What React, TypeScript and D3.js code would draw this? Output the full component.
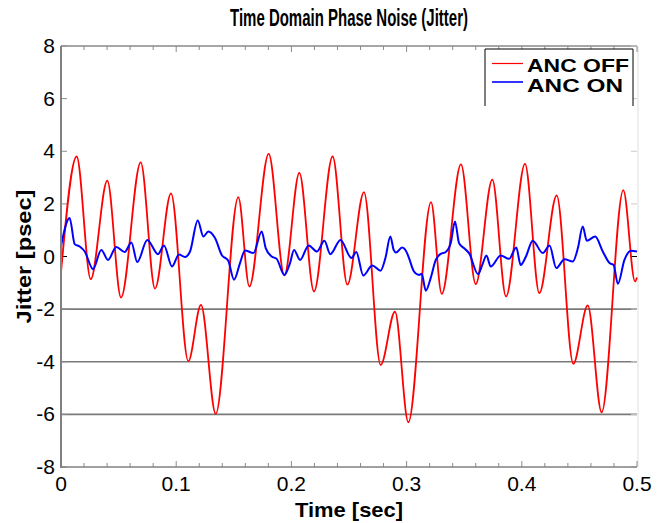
import React from "react";
import * as d3 from "d3";

const WIDTH = 659;
const HEIGHT = 523;

// Axis ticks
const xTickValues = [0, 0.1, 0.2, 0.3, 0.4, 0.5];
const xTickLabels = ["0", "0.1", "0.2", "0.3", "0.4", "0.5"];
const yTickValues = [-8, -6, -4, -2, 0, 2, 4, 6, 8];
const yTickLabels = ["-8", "-6", "-4", "-2", "0", "2", "4", "6", "8"];
const gridLevels = [-2, -4, -6];

// ANC OFF: jitter (psec) vs time (sec)
const ancOffTime = [
  0, 0.0136, 0.0258, 0.0402, 0.0521, 0.0692, 0.0816, 0.0955, 0.1105, 0.1215,
  0.1343, 0.1539, 0.1635, 0.1803, 0.1939, 0.2069, 0.2196, 0.2358, 0.2486, 0.263,
  0.2775, 0.2899, 0.3015, 0.3212, 0.3305, 0.3472, 0.36, 0.3744, 0.3863, 0.4028,
  0.4152, 0.4303, 0.4447, 0.4572, 0.4693, 0.4881, 0.4983, 0.5,
];
const ancOffJitter = [
  -0.6, 3.8, -0.86, 2.88, -1.56, 3.58, -1.22, 2.4, -3.98, -1.84,
  -5.98, 2.26, -1.14, 3.9, -0.72, 3.18, -1.33, 3.8, -1.07, 2.45,
  -4.12, -2.1, -6.3, 2.07, -1.42, 3.5, -1.05, 2.92, -1.52, 3.52,
  -1.39, 2.32, -4.08, -1.86, -5.92, 2.52, -0.95, -0.8,
];

// ANC ON: jitter (psec) vs time (sec)
const ancOnTime = [
  0, 0.0075, 0.0119, 0.0162, 0.0206, 0.0278, 0.035, 0.0408, 0.048, 0.0553,
  0.0611, 0.0662, 0.0749, 0.0842, 0.0894, 0.0964, 0.1024, 0.1076, 0.112, 0.1187,
  0.1236, 0.1279, 0.1337, 0.1395, 0.1452, 0.1502, 0.1554, 0.1597, 0.167, 0.1742,
  0.1777, 0.1829, 0.1872, 0.1939, 0.1988, 0.2023, 0.2075, 0.215, 0.2222, 0.2286,
  0.2338, 0.2426, 0.2522, 0.2563, 0.2624, 0.2702, 0.2774, 0.2816, 0.2859, 0.2888,
  0.2908, 0.2961, 0.3004, 0.3021, 0.3064, 0.3108, 0.3131, 0.3167, 0.3209, 0.3253,
  0.3296, 0.334, 0.3383, 0.342, 0.3455, 0.3498, 0.3542, 0.362, 0.3657, 0.3693,
  0.373, 0.3817, 0.3889, 0.3952, 0.399, 0.4036, 0.4095, 0.4182, 0.4241, 0.4299,
  0.4371, 0.4443, 0.4487, 0.4529, 0.4564, 0.4637, 0.4703, 0.4762, 0.4797, 0.4834,
  0.4891, 0.4948, 0.5,
];
const ancOnJitter = [
  0.4, 1.46, 0.47, 0.38, 0.19, -0.48, 0.25, -0.13, 0.36, 0.17,
  0.53, -0.21, 0.63, 0.09, 0.42, -0.38, 0.08, -0.02, 0.19, 1.37,
  0.76, 0.95, 0.7, 0.06, -0.16, -0.88, -0.25, 0.23, 0.13, 0.95,
  0.32, 0.0, -0.09, -0.7, -0.25, 0.25, -0.13, 0.42, 0.19, 0.6,
  0.09, 0.63, -0.06, 0.17, -0.72, -0.34, -0.54, -0.06, 0.76, 0.25,
  0.15, 0.34, 0.13, -0.06, -0.57, -0.7, -0.66, -1.3, -0.82, -0.13,
  0.1, 0.17, 0.51, 1.33, 0.51, 0.32, 0.13, -0.67, -0.32, 0.04,
  -0.38, 0.04, -0.09, 0.34, -0.32, 0.0, 0.6, 0.13, 0.42, -0.44,
  -0.1, -0.19, 0.32, 1.14, 0.6, 0.76, 0.19, -0.25, -0.32, -1.04,
  -0.13, 0.22, 0.19,
];

const NARROW = "'Liberation Sans Narrow', 'Arial Narrow', 'Liberation Sans', Arial, sans-serif";
const SANS = "'Liberation Sans', Arial, sans-serif";

export default function App() {
  const x = d3.scaleLinear().domain([0, 0.5]).range([61, 637]);
  const y = d3.scaleLinear().domain([-8, 8]).range([467, 46]);

  const line = d3
    .line<[number, number]>()
    .x((d) => x(d[0]))
    .y((d) => y(d[1]))
    .curve(d3.curveMonotoneX);

  const offPts = ancOffTime.map((t, i) => [t, ancOffJitter[i]] as [number, number]);
  const onPts = ancOnTime.map((t, i) => [t, ancOnJitter[i]] as [number, number]);

  const [x0, x1] = x.range();
  const yTop = y(8);
  const yBot = y(-8);
  const minorX = d3.range(0, 0.5001, 0.02);

  return (
    <svg
      width={WIDTH}
      height={HEIGHT}
      style={{ position: "fixed", left: 0, top: 0, background: "#fff" }}
    >
      <rect x={0} y={0} width={WIDTH} height={HEIGHT} fill="#fff" />

      {/* horizontal reference lines */}
      {gridLevels.map((v) => (
        <line key={v} x1={x0} x2={x1} y1={y(v)} y2={y(v)} stroke="#7a7a7a" strokeWidth={1.6} />
      ))}

      {/* frame */}
      <line x1={x0} x2={x1} y1={yTop} y2={yTop} stroke="#8a8a8a" strokeWidth={1.3} />
      <line x1={x1 + 1} x2={x1 + 1} y1={yTop} y2={yBot} stroke="#e6e6e6" strokeWidth={1.3} />

      {/* x ticks, bottom and top */}
      {minorX.map((t, i) => {
        const major = i % 5 === 0;
        const len = major ? 6 : 4;
        return (
          <g key={i}>
            <line x1={x(t)} x2={x(t)} y1={yBot} y2={yBot - len} stroke="#8a8a8a" strokeWidth={1} />
            <line x1={x(t)} x2={x(t)} y1={yTop} y2={yTop + len} stroke="#8a8a8a" strokeWidth={1} />
          </g>
        );
      })}

      {/* y ticks, left and right */}
      {yTickValues.map((v) => (
        <g key={v}>
          <line x1={x0} x2={x0 + 6} y1={y(v)} y2={y(v)} stroke={v === 0 ? "#000" : "#8a8a8a"} strokeWidth={1} />
          <line x1={x1} x2={x1 - 6} y1={y(v)} y2={y(v)} stroke={v === 0 ? "#000" : "#c8c8c8"} strokeWidth={1} />
        </g>
      ))}

      {/* data */}
      <path d={line(offPts) ?? ""} fill="none" stroke="#ff0000" strokeWidth={1.8} />
      <path d={line(onPts) ?? ""} fill="none" stroke="#0000ff" strokeWidth={2} />

      {/* left and bottom axis lines */}
      <line x1={x0} x2={x0} y1={yTop} y2={yBot + 1} stroke="#808080" strokeWidth={2} />
      <line x1={x0} x2={x1} y1={yBot} y2={yBot} stroke="#808080" strokeWidth={1.6} />

      {/* tick labels */}
      {xTickValues.map((t, i) => (
        <text
          key={t}
          x={x(t)}
          y={yBot + 24}
          textAnchor="middle"
          fontFamily={NARROW}
          fontSize={21}
          fill="#000"
        >
          {xTickLabels[i]}
        </text>
      ))}
      {yTickValues.map((v, i) => (
        <text
          key={v}
          x={x0 - 6}
          y={y(v) + 7}
          textAnchor="end"
          fontFamily={NARROW}
          fontSize={21}
          fill="#000"
        >
          {yTickLabels[i]}
        </text>
      ))}

      {/* title and axis titles */}
      <text
        x={(x0 + x1) / 2}
        y={26}
        textAnchor="middle"
        fontFamily={SANS}
        fontWeight="bold"
        fontSize={23}
        textLength={238}
        lengthAdjust="spacingAndGlyphs"
      >
        Time Domain Phase Noise (Jitter)
      </text>
      <text
        x={(x0 + x1) / 2}
        y={517}
        textAnchor="middle"
        fontFamily={NARROW}
        fontWeight="bold"
        fontSize={21}
        textLength={108}
        lengthAdjust="spacingAndGlyphs"
      >
        Time [sec]
      </text>
      <text
        transform={`translate(31, ${(yTop + yBot) / 2}) rotate(-90)`}
        textAnchor="middle"
        fontFamily={NARROW}
        fontWeight="bold"
        fontSize={21}
        textLength={134}
        lengthAdjust="spacingAndGlyphs"
      >
        Jitter [psec]
      </text>

      {/* legend */}
      <g>
        <rect x={485} y={49} width={148} height={58} fill="#fff" />
        <line x1={485} x2={633} y1={49} y2={49} stroke="#000" strokeWidth={1} />
        <line x1={485} x2={485} y1={49} y2={106} stroke="#000" strokeWidth={1} />
        <line x1={633} x2={633} y1={49} y2={106} stroke="#000" strokeWidth={1} />
        <line x1={492} x2={523} y1={63.5} y2={63.5} stroke="#ff0000" strokeWidth={1.2} />
        <line x1={492} x2={523} y1={82} y2={82} stroke="#0000ff" strokeWidth={1.6} />
        <text
          x={527}
          y={71.5}
          fontFamily={SANS}
          fontWeight="bold"
          fontSize={19}
          textLength={102}
          lengthAdjust="spacingAndGlyphs"
        >
          ANC OFF
        </text>
        <text
          x={527}
          y={92}
          fontFamily={SANS}
          fontWeight="bold"
          fontSize={19}
          textLength={96}
          lengthAdjust="spacingAndGlyphs"
        >
          ANC ON
        </text>
      </g>
    </svg>
  );
}
